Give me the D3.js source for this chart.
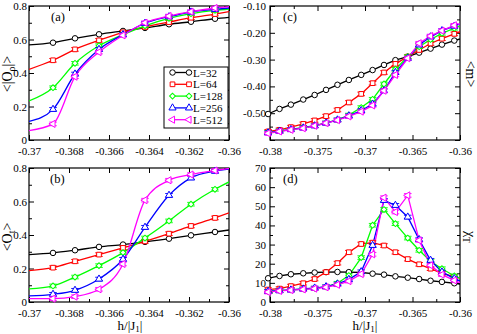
<!DOCTYPE html>
<html>
<head>
<meta charset="utf-8">
<script src="https://cdn.jsdelivr.net/npm/d3@7"></script>
<style>
  body { margin: 0; background: #fff; }
  svg { display: block; font-family: "Liberation Serif", "Times New Roman", serif; }
</style>
</head>
<body>
<div id="grafica"></div>
<script>
// --- datos
const sizes  = ['L=32', 'L=64', 'L=128', 'L=256', 'L=512'];
const colors = ['#000000', '#ff0000', '#00ff00', '#0000ff', '#ff00ff'];

// (a) y (b): el primero y el ultimo valor son donde la curva toca el marco (sin simbolo)
const hAB = [-0.37, -0.3688, -0.3677, -0.3665, -0.3653, -0.3642, -0.3630, -0.3619, -0.3607, -0.36];
const aL32  = [0.568, 0.581, 0.607, 0.631, 0.651, 0.669, 0.691, 0.706, 0.724, 0.732];
const aL64  = [0.422, 0.476, 0.541, 0.595, 0.643, 0.675, 0.704, 0.730, 0.752, 0.766];
const aL128 = [0.233, 0.312, 0.458, 0.563, 0.629, 0.682, 0.726, 0.754, 0.774, 0.782];
const aL256 = [0.111, 0.183, 0.394, 0.541, 0.629, 0.697, 0.736, 0.764, 0.780, 0.788];
const aL512 = [0.056, 0.096, 0.378, 0.525, 0.625, 0.700, 0.740, 0.766, 0.788, 0.796];

const bL32  = [0.283, 0.293, 0.309, 0.329, 0.343, 0.359, 0.378, 0.398, 0.418, 0.430];
const bL64  = [0.187, 0.205, 0.243, 0.283, 0.323, 0.362, 0.408, 0.454, 0.502, 0.532];
const bL128 = [0.078, 0.096, 0.149, 0.217, 0.295, 0.382, 0.484, 0.584, 0.673, 0.717];
const bL256 = [0.036, 0.046, 0.070, 0.137, 0.255, 0.446, 0.637, 0.741, 0.781, 0.793];
const bL512 = [0.020, 0.020, 0.032, 0.076, 0.227, 0.608, 0.727, 0.761, 0.785, 0.797];

// (c) y (d): el ultimo valor es donde la linea toca el marco derecho
const hCD = [-0.3802, -0.3790, -0.3778, -0.3765, -0.3753, -0.3741, -0.3729, -0.3717, -0.3704,
             -0.3692, -0.3680, -0.3668, -0.3655, -0.3643, -0.3631, -0.3619, -0.3606, -0.36];
const mL32  = [-0.503, -0.484, -0.468, -0.449, -0.432, -0.413, -0.394, -0.376, -0.357,
               -0.339, -0.320, -0.302, -0.289, -0.274, -0.259, -0.244, -0.229, -0.223];
const mL64  = [-0.568, -0.562, -0.552, -0.540, -0.527, -0.511, -0.488, -0.460, -0.428,
               -0.388, -0.348, -0.316, -0.289, -0.264, -0.240, -0.222, -0.204, -0.196];
const mL128 = [-0.572, -0.566, -0.560, -0.553, -0.546, -0.536, -0.525, -0.507, -0.479,
               -0.448, -0.391, -0.336, -0.289, -0.252, -0.225, -0.202, -0.183, -0.175];
const mL256 = [-0.573, -0.567, -0.561, -0.555, -0.547, -0.537, -0.525, -0.510, -0.490,
               -0.466, -0.416, -0.348, -0.295, -0.245, -0.215, -0.192, -0.175, -0.167];
const mL512 = [-0.575, -0.568, -0.562, -0.556, -0.547, -0.537, -0.526, -0.512, -0.494,
               -0.471, -0.416, -0.357, -0.295, -0.239, -0.212, -0.192, -0.172, -0.167];

const cL32  = [12.4, 13.6, 14.5, 15.0, 15.4, 15.6, 15.7, 15.6, 15.4,
               14.8, 14.3, 13.4, 12.7, 12.0, 11.1, 10.5, 9.8, 9.4];
const cL64  = [6.5, 7.0, 8.3, 9.8, 12.0, 15.6, 20.3, 26.0, 30.3,
               31.0, 29.5, 26.0, 22.4, 19.7, 17.4, 15.0, 13.2, 12.5];
const cL128 = [5.6, 5.9, 6.3, 6.8, 7.2, 7.9, 9.8, 13.8, 23.2,
               40.1, 48.3, 40.9, 33.4, 27.0, 21.3, 17.4, 13.6, 12.4];
const cL256 = [5.6, 5.9, 6.3, 6.8, 7.3, 8.0, 9.4, 11.8, 15.8,
               29.6, 53.1, 50.5, 44.4, 32.6, 21.8, 15.7, 12.2, 11.0];
const cL512 = [5.2, 5.8, 6.2, 6.6, 7.0, 7.7, 9.0, 10.9, 14.6,
               24.9, 54.5, 47.0, 55.7, 32.2, 19.2, 14.3, 11.3, 10.1];

// ticks
const xTicksAB  = [-0.37, -0.368, -0.366, -0.364, -0.362, -0.36];
const xLabelsAB = ['-0.37', '-0.368', '-0.366', '-0.364', '-0.362', '-0.36'];
const xTicksCD  = [-0.38, -0.375, -0.37, -0.365, -0.36];
const xLabelsCD = ['-0.38', '-0.375', '-0.37', '-0.365', '-0.36'];
const yTicksO   = [0, 0.2, 0.4, 0.6, 0.8];
const yLabelsO  = ['0', '0.2', '0.4', '0.6', '0.8'];
const yTicksM   = [-0.6, -0.5, -0.4, -0.3, -0.2, -0.1];
const yLabelsM  = ['', '-0.50', '-0.40', '-0.30', '-0.20', '-0.10'];
const yTicksC   = [0, 10, 20, 30, 40, 50, 60, 70];
const yLabelsC  = ['0', '10', '20', '30', '40', '50', '60', '70'];

const W = 477, H = 334;
const svg = d3.select('#grafica').append('svg')
  .attr('width', W).attr('height', H);

// simbolos estilo xmgrace
const symbolFor = [
  { type: d3.symbolCircle,   size: 24, rot: 0 },
  { type: d3.symbolSquare,   size: 22, rot: 0 },
  { type: d3.symbolSquare,   size: 17, rot: 45 },
  { type: d3.symbolTriangle, size: 22, rot: 0 },
  { type: d3.symbolTriangle, size: 22, rot: -90 }
];

function midpoints(t) {
  const m = [];
  for (let i = 0; i < t.length - 1; i++) m.push((t[i] + t[i + 1]) / 2);
  return m;
}

function drawSymbol(sel, k, cx, cy) {
  const s = symbolFor[k];
  sel.append('path')
    .attr('d', d3.symbol().type(s.type).size(s.size)())
    .attr('transform', `translate(${cx},${cy}) rotate(${s.rot})`)
    .attr('fill', '#fff')
    .attr('stroke', colors[k])
    .attr('stroke-width', 1);
}

function panel(cfg) {
  const g = svg.append('g');
  const x = d3.scaleLinear().domain(cfg.xDomain).range([cfg.left, cfg.right]);
  const y = d3.scaleLinear().domain(cfg.yDomain).range([cfg.bottom, cfg.top]);

  svg.append('clipPath').attr('id', 'clip-' + cfg.id)
    .append('rect')
    .attr('x', cfg.left).attr('y', cfg.top)
    .attr('width', cfg.right - cfg.left).attr('height', cfg.bottom - cfg.top);

  // ticks hacia dentro en los cuatro lados
  const axes = [
    [d3.axisBottom, x, cfg.xTicks, cfg.bottom, true, cfg.xLabels],
    [d3.axisTop,    x, cfg.xTicks, cfg.top,    true, null],
    [d3.axisLeft,   y, cfg.yTicks, cfg.left,   false, cfg.yLabels],
    [d3.axisRight,  y, cfg.yTicks, cfg.right,  false, null]
  ];
  axes.forEach(([fn, sc, ticks, pos, horiz, labels]) => {
    const tr = horiz ? `translate(0,${pos})` : `translate(${pos},0)`;
    const major = fn(sc).tickValues(ticks).tickSize(-5).tickSizeOuter(0)
      .tickPadding(horiz ? 7 : cfg.yPad)
      .tickFormat(labels ? (d, i) => labels[i] : '');
    const ga = g.append('g').attr('transform', tr).call(major);
    const minor = fn(sc).tickValues(midpoints(ticks)).tickSize(-3).tickFormat('');
    const gm = g.append('g').attr('transform', tr).call(minor);
    ga.select('.domain').remove();
    gm.select('.domain').remove();
    ga.selectAll('text').attr('font-size', 11).attr('fill', '#000')
      .style('font-family', '"Liberation Serif", serif');
    ga.selectAll('line').attr('stroke', '#000');
    gm.selectAll('line').attr('stroke', '#000');
  });

  g.append('rect')
    .attr('x', cfg.left).attr('y', cfg.top)
    .attr('width', cfg.right - cfg.left).attr('height', cfg.bottom - cfg.top)
    .attr('fill', 'none').attr('stroke', '#000').attr('stroke-width', 1.2);

  const line = d3.line()
    .x((d) => x(d[0]))
    .y((d) => y(d[1]))
    .curve(cfg.curve);

  cfg.series.forEach((vals, k) => {
    const pts = cfg.h.map((h, i) => [h, vals[i]]);
    g.append('path')
      .attr('d', line(pts))
      .attr('clip-path', `url(#clip-${cfg.id})`)
      .attr('fill', 'none')
      .attr('stroke', colors[k])
      .attr('stroke-width', 1.3);
  });

  // simbolos (los puntos de borde no llevan simbolo)
  cfg.series.forEach((vals, k) => {
    const gs = g.append('g');
    cfg.h.forEach((h, i) => {
      if (!cfg.marked(i)) return;
      const cx = x(h), cy = y(vals[i]);
      if (k > 0) {
        gs.append('path')
          .attr('d', `M${cx - 3.8},${cy - 1.8}H${cx + 3.8}M${cx - 3.8},${cy + 1.8}H${cx + 3.8}`)
          .attr('stroke', colors[k]).attr('stroke-width', 0.9);
      }
      drawSymbol(gs, k, cx, cy);
    });
  });

  g.append('text')
    .attr('x', cfg.left + cfg.tagDx).attr('y', cfg.top + 15)
    .attr('font-size', 12.5)
    .text(cfg.tag);

  return { g, x, y };
}

const pa = panel({
  id: 'a', left: 29, right: 229, top: 6, bottom: 140,
  xDomain: [-0.37, -0.36], yDomain: [0, 0.8],
  xTicks: xTicksAB, xLabels: xLabelsAB, yTicks: yTicksO, yLabels: yLabelsO, yPad: 2,
  h: hAB, series: [aL32, aL64, aL128, aL256, aL512],
  marked: (i) => i > 0 && i < hAB.length - 1,
  curve: d3.curveMonotoneX, tag: '(a)', tagDx: 22
});
panel({
  id: 'b', left: 29, right: 229, top: 168, bottom: 302,
  xDomain: [-0.37, -0.36], yDomain: [0, 0.8],
  xTicks: xTicksAB, xLabels: xLabelsAB, yTicks: yTicksO, yLabels: yLabelsO, yPad: 2,
  h: hAB, series: [bL32, bL64, bL128, bL256, bL512],
  marked: (i) => i > 0 && i < hAB.length - 1,
  curve: d3.curveMonotoneX, tag: '(b)', tagDx: 21
});
panel({
  id: 'c', left: 270, right: 460, top: 6, bottom: 140,
  xDomain: [-0.38, -0.36], yDomain: [-0.6, -0.1],
  xTicks: xTicksCD, xLabels: xLabelsCD, yTicks: yTicksM, yLabels: yLabelsM, yPad: 4,
  h: hCD, series: [mL32, mL64, mL128, mL256, mL512],
  marked: (i) => i < hCD.length - 1,
  curve: d3.curveLinear, tag: '(c)', tagDx: 13
});
panel({
  id: 'd', left: 270, right: 460, top: 168, bottom: 302,
  xDomain: [-0.38, -0.36], yDomain: [0, 70],
  xTicks: xTicksCD, xLabels: xLabelsCD, yTicks: yTicksC, yLabels: yLabelsC, yPad: 4,
  h: hCD, series: [cL32, cL64, cL128, cL256, cL512],
  marked: (i) => i < hCD.length - 1,
  curve: d3.curveLinear, tag: '(d)', tagDx: 13
});

// --- leyenda en (a)
const leg = pa.g.append('g');
leg.append('rect')
  .attr('x', 164).attr('y', 67).attr('width', 64).attr('height', 61)
  .attr('fill', '#fff').attr('stroke', '#000').attr('stroke-width', 1);
sizes.forEach((s, k) => {
  const yy = 72.5 + k * 11.8;
  leg.append('line')
    .attr('x1', 172.5).attr('x2', 189).attr('y1', yy).attr('y2', yy)
    .attr('stroke', colors[k]).attr('stroke-width', 1.3);
  drawSymbol(leg, k, 172.5, yy);
  drawSymbol(leg, k, 189, yy);
  leg.append('text')
    .attr('x', 193).attr('y', yy + 4)
    .attr('font-size', 11)
    .text(s);
});

// --- titulos de ejes
function title(x, y, rot, parts, size) {
  const t = svg.append('text')
    .attr('transform', `translate(${x},${y}) rotate(${rot})`)
    .attr('text-anchor', 'middle')
    .attr('font-size', size);
  parts.forEach(([txt, sub]) => {
    t.append('tspan')
      .attr('baseline-shift', sub ? '-25%' : null)
      .attr('font-size', sub ? size * 0.7 : null)
      .text(txt);
  });
}
title(12, 74, -90, [['<|O', false], ['ρ', true], ['|>', false]], 14);
title(12, 237, -90, [['<O', false], ['t', true], ['>', false]], 14);
title(466, 74, 90, [['<m>', false]], 14);
title(466, 237, 90, [['χ', false], ['T', true]], 14);
title(130, 330, 0, [['h/|J', false], ['1', true], ['|', false]], 13);
title(365, 330, 0, [['h/|J', false], ['1', true], ['|', false]], 13);
</script>
</body>
</html>
